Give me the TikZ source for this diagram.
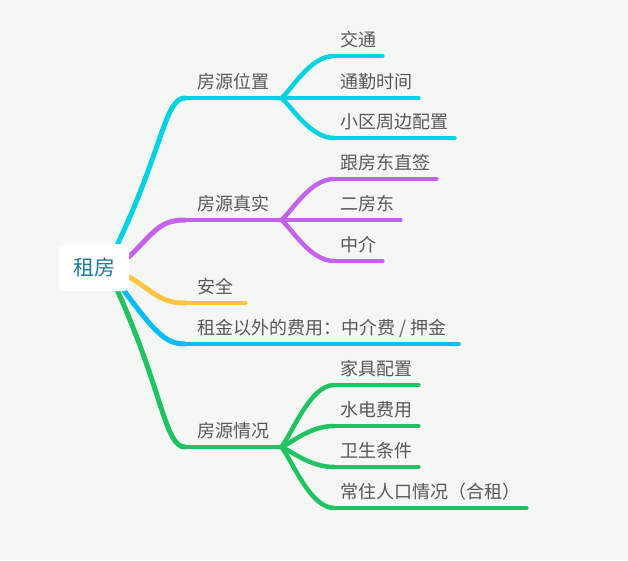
\documentclass[tikz,border=0pt]{standalone}
\usepackage{fontspec}
\usepackage{tikz}
\newfontfamily\cjk{Noto Sans CJK SC}
\definecolor{bgcol}{RGB}{245,247,244}
\definecolor{txt}{RGB}{88,88,88}
\definecolor{roottxt}{RGB}{28,124,150}
\definecolor{cyanb}{RGB}{0,210,226}
\definecolor{purpleb}{RGB}{196,98,236}
\definecolor{yellowb}{RGB}{255,197,66}
\definecolor{blueb}{RGB}{0,190,245}
\definecolor{greenb}{RGB}{32,194,98}
\pgfdeclarelayer{bg}
\pgfdeclarelayer{lines}
\pgfsetlayers{bg,lines,main}
\newcommand{\topicline}[2]{\draw[#1, line width=4.5pt, line cap=round] (#2.south west) -- (#2.south east);}
\newcommand{\subbranch}[4]{\draw[#1, line width=4.5pt, line cap=round] (#2.south east) .. controls +(10,#4) and +(-24,0) .. (#3.south west);}
\tikzset{
  topic/.style={font=\cjk\fontsize{18}{18}\selectfont, text=txt, anchor=south west,
    inner xsep=12pt, inner ysep=9.5pt, text depth=0pt},
  subtopic/.style={topic, inner xsep=6pt},
  root/.style={font=\cjk\fontsize{21}{21}\selectfont, text=roottxt, fill=white,
    rounded corners=6pt, minimum width=70pt, minimum height=47pt, inner sep=0pt},
  mainbranch/.style={line width=5pt, line cap=round}
}

\begin{document}
\begin{tikzpicture}[x=1pt,y=-1pt]
\useasboundingbox (0,0) rectangle (628,560);
\begin{pgfonlayer}{bg}
\fill[bgcol] (0,0) rectangle (628,560);
\end{pgfonlayer}
\node[root] (zf) at (94,267.5) {租房};
% first level
\node[topic] (wz) at (185,98) {房源位置};
\node[topic] (zs) at (185,220) {房源真实};
\node[topic] (aq) at (185,303) {安全};
\node[topic] (fy) at (185,344) {租金以外的费用：中介费 / 押金};
\node[topic] (qk) at (185,447) {房源情况};
% second level
\node[subtopic] (jt) at (334,56) {交通};
\node[subtopic] (tq) at (334,98) {通勤时间};
\node[subtopic] (zb) at (334,138) {小区周边配置};
\node[subtopic] (fd) at (334,179) {跟房东直签};
\node[subtopic] (efd) at (334,220) {二房东};
\node[subtopic] (zj) at (334,261) {中介};
\node[subtopic] (jj) at (334,385) {家具配置};
\node[subtopic] (sd) at (334,426) {水电费用};
\node[subtopic] (ws) at (334,467) {卫生条件};
\node[subtopic] (rk) at (334,508) {常住人口情况（合租）};
\begin{pgfonlayer}{lines}
% root to first level
\draw[cyanb, mainbranch] (zf.45) .. controls +(45,-95) and +(-20,0) .. (wz.south west);
\draw[purpleb, mainbranch] (zf.17) .. controls +(25,-25) and +(-25,0) .. (zs.south west);
\draw[yellowb, mainbranch] (zf.-15) .. controls +(25,15) and +(-25,0) .. (aq.south west);
\draw[blueb, mainbranch] (zf.-38) .. controls +(30,40) and +(-20,0) .. (fy.south west);
\draw[greenb, mainbranch] (zf.-45) .. controls +(45,100) and +(-20,0) .. (qk.south west);
\topicline{cyanb}{wz}\topicline{purpleb}{zs}\topicline{yellowb}{aq}
\topicline{blueb}{fy}\topicline{greenb}{qk}
% first to second level
\subbranch{cyanb}{wz}{jt}{-8}\subbranch{cyanb}{wz}{tq}{0}\subbranch{cyanb}{wz}{zb}{8}
\subbranch{purpleb}{zs}{fd}{-8}\subbranch{purpleb}{zs}{efd}{0}\subbranch{purpleb}{zs}{zj}{8}
\subbranch{greenb}{qk}{jj}{-12}\subbranch{greenb}{qk}{sd}{-4}
\subbranch{greenb}{qk}{ws}{4}\subbranch{greenb}{qk}{rk}{12}
\topicline{cyanb}{jt}\topicline{cyanb}{tq}\topicline{cyanb}{zb}
\topicline{purpleb}{fd}\topicline{purpleb}{efd}\topicline{purpleb}{zj}
\topicline{greenb}{jj}\topicline{greenb}{sd}\topicline{greenb}{ws}\topicline{greenb}{rk}
\end{pgfonlayer}
\end{tikzpicture}
\end{document}
